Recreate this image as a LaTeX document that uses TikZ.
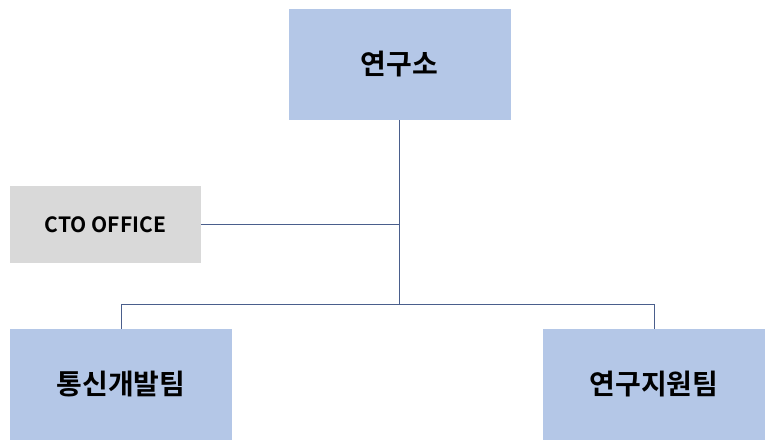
\documentclass[tikz,border=0pt]{standalone}
\usepackage{fontspec}
\setmainfont{Noto Sans CJK KR}[BoldFont={Noto Sans CJK KR Bold}]
\definecolor{boxblue}{HTML}{B4C7E7}
\definecolor{boxgray}{HTML}{D9D9D9}
\definecolor{linkblue}{HTML}{4A5E8C}
\begin{document}
\begin{tikzpicture}[x=1pt,y=-1pt,
    unit/.style={fill=boxblue,inner sep=0pt,minimum width=222pt,minimum height=111pt,font=\bfseries\fontsize{28}{32}\selectfont},
    office/.style={fill=boxgray,inner sep=0pt,minimum width=191pt,minimum height=77pt,font=\bfseries\fontsize{21}{25}\selectfont},
    link/.style={draw=linkblue,line width=1pt}]
				\useasboundingbox (0,0) rectangle (776,447);
				\node[unit] (lab) at (399.5,64.5) {연구소};
				\node[office] (cto) at (105.5,224.5) {CTO OFFICE};
				\node[unit] (dev) at (121,384.5) {통신개발팀};
				\node[unit] (sup) at (654,384.5) {연구지원팀};
				\coordinate (mid) at (399.5,224.5);
				\coordinate (bus) at (399.5,304);

				\draw[link] (lab.south) -- (bus);
				\draw[link] (cto.east) -- (mid);
				\draw[link] (bus) -| (dev.north);
				\draw[link] (bus) -| (sup.north);
			\end{tikzpicture}
\end{document}
